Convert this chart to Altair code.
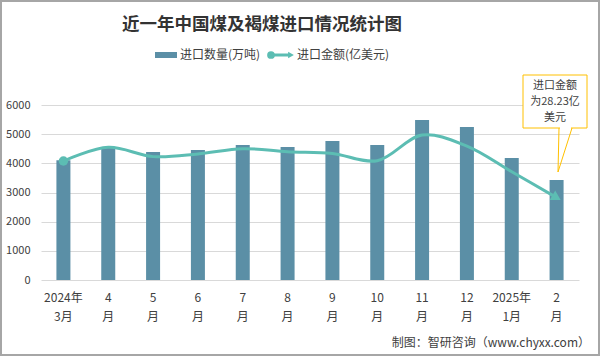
import altair as alt
import pandas as pd

months = ["2024年\n3月", "4\n月", "5\n月", "6\n月", "7\n月", "8\n月", "9\n月", "10\n月",
          "11\n月", "12\n月", "2025年\n1月", "2\n月"]
qty = [4110, 4560, 4390, 4460, 4630, 4560, 4770, 4630, 5490, 5250, 4180, 3430]
val = [40.8, 45.5, 42.3, 43.2, 45.0, 44.0, 43.4, 40.9, 49.7, 45.9, 37.1, 28.23]

df = pd.DataFrame({"month": months, "qty": qty, "val": val, "idx": list(range(len(months)))})

BAR = "#5B8FA6"
LINE = "#5CBDB3"
TXT = "#404040"
FONT = "Noto Sans CJK SC"

W, H = 538, 175
L, T = 41, 105

xenc = alt.X("month:N", sort=months, title=None,
             scale=alt.Scale(paddingInner=0.0, paddingOuter=0.0),
             axis=alt.Axis(labelExpr="split(datum.label, '\\n')", labelAngle=0,
                           domain=False, ticks=False, labelPadding=12,
                           labelFontSize=12, labelColor=TXT, labelLineHeight=19,
                           labelFont=FONT))

bars = alt.Chart(df).mark_bar(size=14, color=BAR).encode(
    x=xenc,
    y=alt.Y("qty:Q", title=None,
            scale=alt.Scale(domain=[0, 6000]),
            axis=alt.Axis(values=[0, 1000, 2000, 3000, 4000, 5000, 6000], format="d",
                          domain=False, ticks=False, labelPadding=11,
                          labelFontSize=11, labelColor=TXT, gridColor="#D9D9D9",
                          labelFont=FONT))
)

yv = alt.Y("val:Q", scale=alt.Scale(domain=[0, 60]), axis=None)
line = alt.Chart(df).mark_line(interpolate="catmull-rom", strokeWidth=3, color=LINE).encode(
    x=alt.X("month:N", sort=months), y=yv)
first = alt.Chart(df).transform_filter("datum.idx == 0").mark_point(
    shape="circle", size=90, filled=True, opacity=1, color=LINE).encode(
    x=alt.X("month:N", sort=months), y=yv)
arrow = alt.Chart(df).transform_filter("datum.idx == 11").mark_point(
    shape="triangle-right", size=120, filled=True, opacity=1, color=LINE, angle=30).encode(
    x=alt.X("month:N", sort=months), y=yv)

one = pd.DataFrame({"a": [0]})
base = alt.Chart(one)

def txt(text, x, y, size=12, color=TXT, bold=False, align="center"):
    return base.mark_text(text=text, fontSize=size, color=color, font=FONT,
                          fontWeight="bold" if bold else "normal", align=align,
                          baseline="middle").encode(x=alt.value(x - L), y=alt.value(y - T))

title = txt("近一年中国煤及褐煤进口情况统计图", 262, 25, size=17.5, color="#333333", bold=True)
leg_bar = base.mark_rect(color=BAR).encode(x=alt.value(155 - L), x2=alt.value(177 - L),
                                           y=alt.value(52 - T), y2=alt.value(58 - T))
leg_t1 = txt("进口数量(万吨)", 180, 55, align="left")
leg_line = base.mark_rule(color=LINE, strokeWidth=3).encode(
    x=alt.value(270 - L), x2=alt.value(290 - L), y=alt.value(55 - T))
leg_dot = base.mark_point(shape="circle", filled=True, opacity=1, size=60, color=LINE).encode(
    x=alt.value(271 - L), y=alt.value(55 - T))
leg_arr = base.mark_point(shape="triangle-right", filled=True, opacity=1, size=45, color=LINE).encode(
    x=alt.value(291 - L), y=alt.value(55 - T))
leg_t2 = txt("进口金额(亿美元)", 297, 55, align="left")

CALL = "#FFC000"
box = base.mark_rect(fill="white", stroke=CALL, strokeWidth=1).encode(
    x=alt.value(523 - L), x2=alt.value(587 - L), y=alt.value(75 - T), y2=alt.value(128 - T))
gap = base.mark_rule(color="white", strokeWidth=2).encode(
    x=alt.value(560 - L), x2=alt.value(571 - L), y=alt.value(128 - T))
p1 = base.mark_rule(color=CALL, strokeWidth=1).encode(
    x=alt.value(559 - L), x2=alt.value(558 - L), y=alt.value(128 - T), y2=alt.value(172 - T))
p2 = base.mark_rule(color=CALL, strokeWidth=1).encode(
    x=alt.value(572 - L), x2=alt.value(558 - L), y=alt.value(128 - T), y2=alt.value(172 - T))
c1 = txt("进口金额", 555, 86, size=11)
c2 = txt("为28.23亿", 555, 102, size=11)
c3 = txt("美元", 555, 118, size=11)

src = txt("制图：智研咨询（www.chyxx.com）", 590, 343, size=12, align="right")
border = base.mark_rect(fill=None, stroke="#A6A6A6", strokeWidth=2).encode(
    x=alt.value(1 - L), x2=alt.value(599 - L), y=alt.value(1 - T), y2=alt.value(355 - T))

chart = alt.layer(
    bars, line, first, arrow,
    border, title, leg_bar, leg_t1, leg_line, leg_dot, leg_arr, leg_t2,
    box, gap, p1, p2, c1, c2, c3, src
).resolve_scale(y="independent").properties(
    width=W, height=H,
    autosize=alt.AutoSizeParams(type="none"),
    padding={"left": L, "top": T, "right": 600 - L - W, "bottom": 356 - T - H},
    background="white"
).configure_view(stroke=None)

chart.save("out.html", embed_options={"renderer": "svg", "actions": False})
